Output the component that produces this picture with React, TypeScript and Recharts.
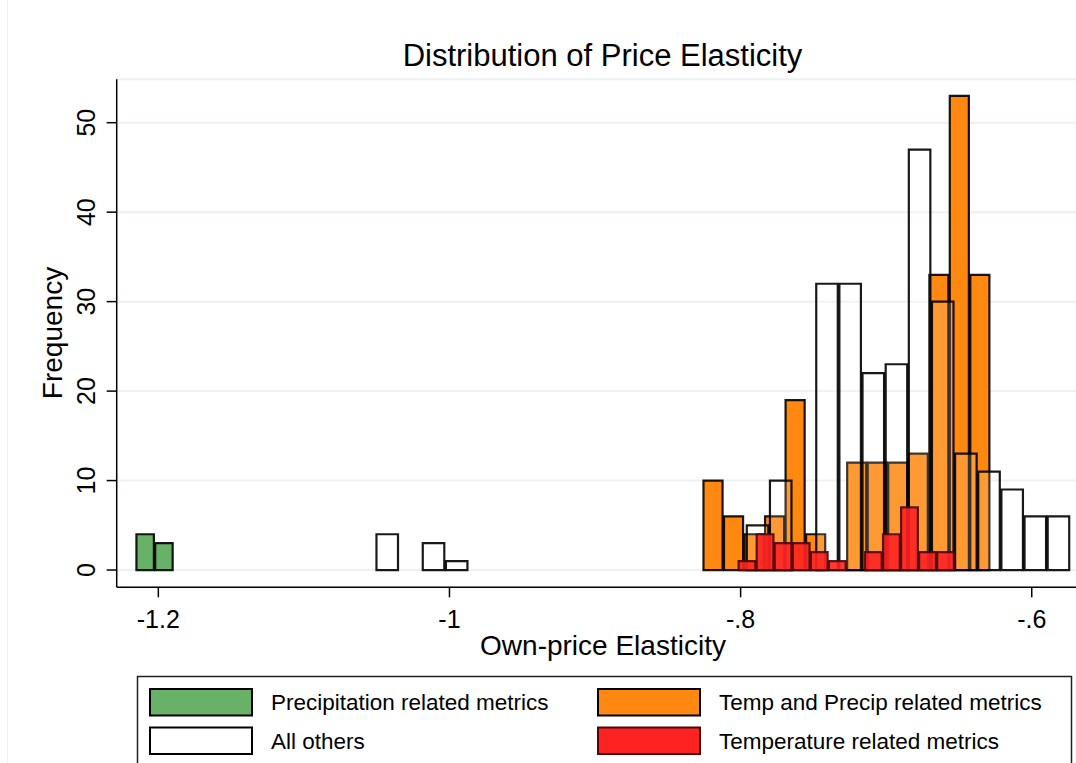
import React from 'react';
import { ComposedChart, XAxis, YAxis, CartesianGrid, ReferenceArea } from 'recharts';

// histogram bins (left edge of first bin, bin width, counts)
const precipStart = -1.2155;
const precipWidth = 0.0129;
const precipFreq = [4, 3];

const othersStart = -1.0507;
const othersWidth = 0.0159;
const othersFreq = [4, 0, 3, 1, 0, 0, 0, 0, 0, 0, 0, 0, 0, 0, 0, 0, 5, 10, 0, 32, 32, 22, 23, 47, 30, 13, 11, 9, 6, 6];

const bothStart = -0.826;
const bothWidth = 0.0141;
const bothFreq = [10, 6, 4, 6, 19, 4, 0, 12, 12, 12, 13, 33, 53, 33];

const tempStart = -0.8018;
const tempWidth = 0.0124;
const tempFreq = [1, 4, 3, 3, 2, 1, 0, 2, 4, 7, 2, 2];

const xTicks = [-1.2, -1, -0.8, -0.6];
const yTicks = [0, 10, 20, 30, 40, 50];

const legendLabels = [
  'Precipitation related metrics',
  'Temp and Precip related metrics',
  'All others',
  'Temperature related metrics',
];

const FONT = '"Liberation Sans", Arial, Helvetica, sans-serif';
const GAP = 0.035; // share of bin width left empty on each side

type Bin = { x0: number; x1: number; freq: number };

const toBins = (start: number, width: number, freq: number[]): Bin[] =>
  freq
    .map((f, i) => ({
      x0: start + i * width + width * GAP,
      x1: start + (i + 1) * width - width * GAP,
      freq: f,
    }))
    .filter((b) => b.freq > 0);

const precipBins = toBins(precipStart, precipWidth, precipFreq);
const othersBins = toBins(othersStart, othersWidth, othersFreq);
const bothBins = toBins(bothStart, bothWidth, bothFreq);
const tempBins = toBins(tempStart, tempWidth, tempFreq);

const series = [
  { key: 'precip', bins: precipBins, fill: '#67B267', fillOpacity: 1, stroke: '#000' },
  { key: 'both', bins: bothBins, fill: '#FF8811', fillOpacity: 1, stroke: '#000' },
  { key: 'others', bins: othersBins, fill: '#FFFFFF', fillOpacity: 0.15, stroke: '#000' },
  { key: 'temp', bins: tempBins, fill: '#FF2222', fillOpacity: 0.9, stroke: '#4a0808' },
];

const legendColors = ['#67B267', '#FF8811', '#FFFFFF', '#FF2222'];

const fmtX = (v: number) => String(v).replace('0.', '.');

const XTick = (props: any) => {
  const { x, y, payload } = props;
  return (
    <text x={x} y={y} dy="0.71em" textAnchor="middle" fontSize={25} fontFamily={FONT} fill="#000">
      {fmtX(payload.value)}
    </text>
  );
};

const YTick = (props: any) => {
  const { x, y, payload } = props;
  return (
    <text
      x={x}
      y={y}
      textAnchor="middle"
      fontSize={25}
      fontFamily={FONT}
      fill="#000"
      transform={`rotate(-90, ${x}, ${y})`}
    >
      {payload.value}
    </text>
  );
};

export default function App() {
  return (
    <div
      style={{
        position: 'absolute',
        left: 0,
        top: 0,
        width: 1076,
        height: 763,
        overflow: 'hidden',
        background: '#fff',
        fontFamily: FONT,
      }}
    >
      <ComposedChart
        width={1076}
        height={763}
        data={othersBins}
        margin={{ top: 79.3, right: 0, left: 56.7, bottom: 115.7 }}
      >
        <CartesianGrid vertical={false} stroke="#EAF2F3" strokeWidth={2} />
        <XAxis
          dataKey="x0"
          type="number"
          domain={[-1.2286, -0.5696]}
          allowDataOverflow
          ticks={xTicks}
          height={60}
          tickSize={10}
          tickMargin={13}
          tick={<XTick />}
          axisLine={{ stroke: '#000', strokeWidth: 1.5 }}
          tickLine={{ stroke: '#000', strokeWidth: 1.5 }}
        />
        <YAxis
          type="number"
          domain={[-1.93, 54.85]}
          allowDataOverflow
          ticks={yTicks}
          width={60}
          tickSize={10}
          tickMargin={12}
          tick={<YTick />}
          axisLine={{ stroke: '#000', strokeWidth: 1.5 }}
          tickLine={{ stroke: '#000', strokeWidth: 1.5 }}
        />
        {series.map((s) =>
          s.bins.map((b, i) => (
            <ReferenceArea
              key={`${s.key}-${i}`}
              x1={b.x0}
              x2={b.x1}
              y1={0}
              y2={b.freq}
              fill={s.fill}
              fillOpacity={s.fillOpacity}
              stroke={s.stroke}
              strokeWidth={2.2}
              strokeOpacity={0.9}
              ifOverflow="visible"
            />
          ))
        )}
      </ComposedChart>

      <svg
        width={1076}
        height={763}
        style={{ position: 'absolute', left: 0, top: 0, pointerEvents: 'none' }}
      >
        <line x1={7.5} y1={0} x2={7.5} y2={763} stroke="#EEEEEE" strokeWidth={1} />
        <text x={602.5} y={66} textAnchor="middle" fontSize={31} fontFamily={FONT} fill="#000">
          Distribution of Price Elasticity
        </text>
        <text x={603} y={655} textAnchor="middle" fontSize={28} fontFamily={FONT} fill="#000">
          Own-price Elasticity
        </text>
        <text
          x={62}
          y={333}
          textAnchor="middle"
          fontSize={28}
          fontFamily={FONT}
          fill="#000"
          transform="rotate(-90, 62, 333)"
        >
          Frequency
        </text>

        <rect x={137.5} y={676.5} width={934} height={120} fill="#fff" stroke="#222" strokeWidth={1.5} />
        {legendLabels.map((label, i) => {
          const col = i % 2;
          const row = Math.floor(i / 2);
          const sx = col === 0 ? 150 : 598;
          const sy = row === 0 ? 689 : 727.5;
          return (
            <g key={label}>
              <rect
                x={sx}
                y={sy}
                width={102}
                height={26.5}
                fill={legendColors[i]}
                stroke={i === 3 ? '#4a0808' : '#000'}
                strokeWidth={2}
              />
              <text x={sx + 121} y={sy + 21} fontSize={22.5} fontFamily={FONT} fill="#000">
                {label}
              </text>
            </g>
          );
        })}
      </svg>
    </div>
  );
}
